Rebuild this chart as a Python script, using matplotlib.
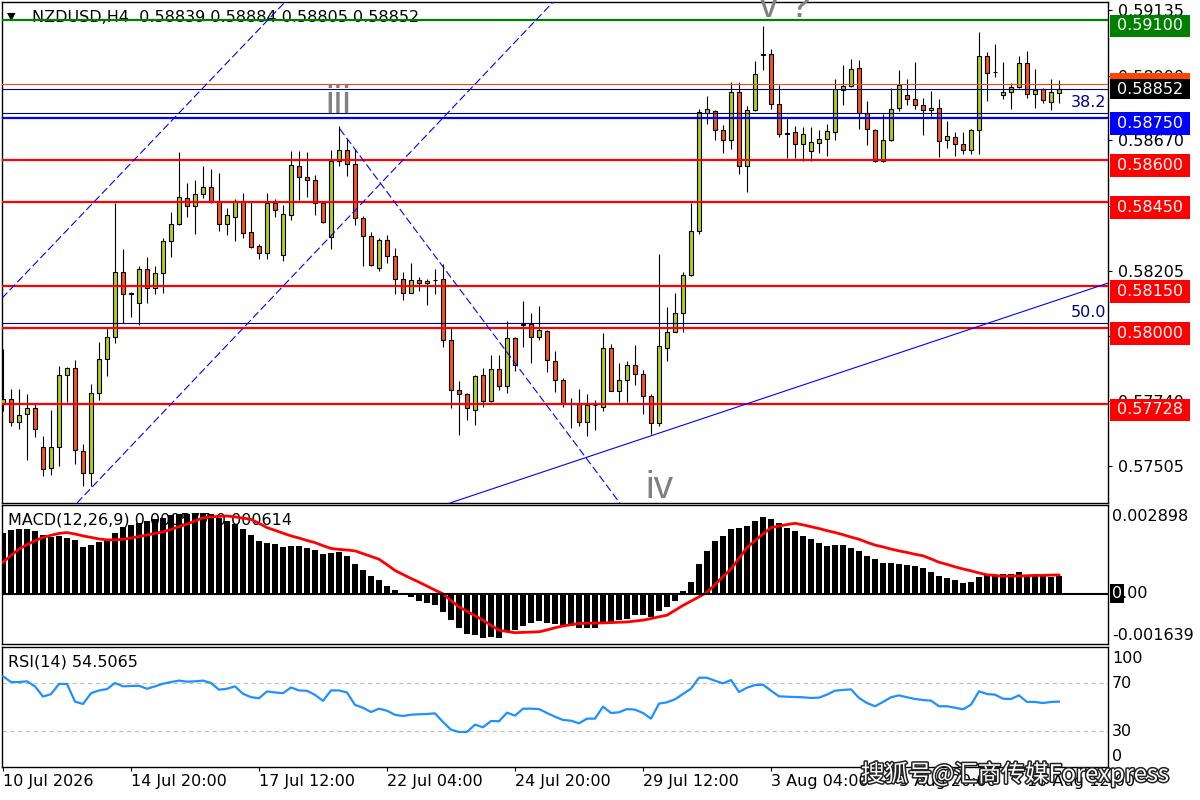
import matplotlib
matplotlib.use("Agg")
import matplotlib.pyplot as plt
import matplotlib.patheffects as pe
from matplotlib.patches import Rectangle
import numpy as np

plt.rcParams['font.family'] = ['DejaVu Sans']
plt.rcParams['axes.linewidth'] = 1.0

# ---- NZDUSD H4 candles ----
opens = [0.57727, 0.57745, 0.57665, 0.57693, 0.57715, 0.57576, 0.57501, 0.57576, 0.57833, 0.57858,
         0.57561, 0.57483, 0.57768, 0.57890, 0.57968, 0.58200, 0.58122, 0.58090, 0.58211, 0.58143,
         0.58197, 0.58311, 0.58372, 0.58465, 0.58436, 0.58479, 0.58504, 0.58454, 0.58372, 0.58397,
         0.58454, 0.58343, 0.58293, 0.58268, 0.58447, 0.58261, 0.58404, 0.58579, 0.58540, 0.58529,
         0.58447, 0.58325, 0.58597, 0.58636, 0.58586, 0.58393, 0.58329, 0.58215, 0.58315, 0.58257,
         0.58175, 0.58125, 0.58172, 0.58161, 0.58172, 0.58175, 0.57957, 0.57779, 0.57765, 0.57708,
         0.57833, 0.57740, 0.57854, 0.57793, 0.57965, 0.58015, 0.58015, 0.57968, 0.57990, 0.57883,
         0.57815, 0.57730, 0.57729, 0.57665, 0.57723, 0.57718, 0.57929, 0.57776, 0.57815, 0.57868,
         0.57836, 0.57758, 0.57661, 0.57929, 0.57986, 0.58054, 0.58190, 0.58347, 0.58768, 0.58775,
         0.58707, 0.58672, 0.58843, 0.58579, 0.58779, 0.58976, 0.58979, 0.58800, 0.58696, 0.58700,
         0.58657, 0.58632, 0.58661, 0.58675, 0.58700, 0.58850, 0.58864, 0.58929, 0.58768, 0.58707,
         0.58597, 0.58672, 0.58786, 0.58832, 0.58818, 0.58797, 0.58779, 0.58786, 0.58672, 0.58682,
         0.58657, 0.58636, 0.58707, 0.58971, 0.58915, 0.58832, 0.58843, 0.58861, 0.58946, 0.58836,
         0.58854, 0.58807, 0.58839]
highs = [0.57926, 0.57780, 0.57780, 0.57762, 0.57730, 0.57615, 0.57705, 0.57865, 0.57862, 0.57884,
         0.57584, 0.57800, 0.57950, 0.58001, 0.58448, 0.58283, 0.58129, 0.58222, 0.58255, 0.58222,
         0.58322, 0.58415, 0.58629, 0.58518, 0.58529, 0.58579, 0.58568, 0.58554, 0.58429, 0.58461,
         0.58483, 0.58454, 0.58298, 0.58482, 0.58461, 0.58440, 0.58632, 0.58632, 0.58629, 0.58547,
         0.58454, 0.58636, 0.58723, 0.58676, 0.58639, 0.58398, 0.58343, 0.58322, 0.58332, 0.58286,
         0.58200, 0.58232, 0.58182, 0.58175, 0.58211, 0.58229, 0.58000, 0.57811, 0.57768, 0.57833,
         0.57858, 0.57904, 0.57904, 0.58025, 0.57969, 0.58097, 0.58054, 0.58079, 0.57994, 0.57918,
         0.57820, 0.57751, 0.57783, 0.57765, 0.57743, 0.57983, 0.57943, 0.57875, 0.57883, 0.57940,
         0.57850, 0.57762, 0.58265, 0.58075, 0.58125, 0.58200, 0.58447, 0.58783, 0.58827, 0.58780,
         0.58725, 0.58879, 0.58879, 0.58793, 0.58954, 0.59079, 0.58996, 0.58868, 0.58750, 0.58722,
         0.58718, 0.58718, 0.58707, 0.58729, 0.58889, 0.58939, 0.58961, 0.58957, 0.58811, 0.58712,
         0.58764, 0.58857, 0.58922, 0.58889, 0.58950, 0.58822, 0.58846, 0.58818, 0.58739, 0.58700,
         0.58700, 0.58711, 0.59057, 0.58986, 0.59014, 0.58950, 0.58875, 0.58971, 0.58989, 0.58925,
         0.58857, 0.58889, 0.58884]
lows = [0.57702, 0.57651, 0.57638, 0.57528, 0.57610, 0.57472, 0.57474, 0.57508, 0.57736, 0.57515,
        0.57436, 0.57436, 0.57742, 0.57829, 0.57947, 0.58018, 0.58040, 0.58009, 0.58090, 0.58122,
        0.58125, 0.58254, 0.58369, 0.58397, 0.58335, 0.58465, 0.58447, 0.58347, 0.58331, 0.58311,
        0.58322, 0.58287, 0.58245, 0.58245, 0.58397, 0.58240, 0.58386, 0.58457, 0.58468, 0.58404,
        0.58375, 0.58282, 0.58579, 0.58543, 0.58368, 0.58222, 0.58222, 0.58204, 0.58232, 0.58122,
        0.58100, 0.58123, 0.58132, 0.58082, 0.58122, 0.57932, 0.57715, 0.57618, 0.57670, 0.57654,
        0.57718, 0.57736, 0.57779, 0.57768, 0.57847, 0.57932, 0.57875, 0.57957, 0.57843, 0.57772,
        0.57718, 0.57643, 0.57651, 0.57615, 0.57636, 0.57704, 0.57773, 0.57736, 0.57736, 0.57797,
        0.57693, 0.57622, 0.57651, 0.57883, 0.57984, 0.57986, 0.58186, 0.58336, 0.58727, 0.58672,
        0.58625, 0.58639, 0.58549, 0.58486, 0.58776, 0.58922, 0.58782, 0.58682, 0.58607, 0.58607,
        0.58597, 0.58597, 0.58625, 0.58614, 0.58672, 0.58797, 0.58862, 0.58711, 0.58654, 0.58593,
        0.58593, 0.58669, 0.58775, 0.58797, 0.58782, 0.58689, 0.58757, 0.58611, 0.58643, 0.58614,
        0.58622, 0.58622, 0.58622, 0.58811, 0.58896, 0.58818, 0.58782, 0.58857, 0.58822, 0.58786,
        0.58804, 0.58779, 0.58805]
closes = [0.57745, 0.57665, 0.57690, 0.57715, 0.57637, 0.57497, 0.57576, 0.57833, 0.57858, 0.57565,
          0.57483, 0.57768, 0.57890, 0.57968, 0.58200, 0.58122, 0.58123, 0.58211, 0.58143, 0.58197,
          0.58311, 0.58372, 0.58468, 0.58436, 0.58479, 0.58504, 0.58454, 0.58372, 0.58404, 0.58454,
          0.58340, 0.58290, 0.58268, 0.58447, 0.58422, 0.58407, 0.58582, 0.58540, 0.58529, 0.58447,
          0.58379, 0.58597, 0.58636, 0.58586, 0.58393, 0.58329, 0.58225, 0.58315, 0.58257, 0.58175,
          0.58125, 0.58172, 0.58161, 0.58168, 0.58171, 0.57957, 0.57779, 0.57765, 0.57715, 0.57829,
          0.57740, 0.57854, 0.57793, 0.57965, 0.57868, 0.58011, 0.57968, 0.57993, 0.57887, 0.57815,
          0.57733, 0.57728, 0.57665, 0.57726, 0.57725, 0.57929, 0.57776, 0.57815, 0.57868, 0.57836,
          0.57758, 0.57661, 0.57936, 0.57986, 0.58054, 0.58190, 0.58347, 0.58772, 0.58782, 0.58707,
          0.58672, 0.58843, 0.58579, 0.58779, 0.58907, 0.58978, 0.58800, 0.58693, 0.58694, 0.58657,
          0.58693, 0.58664, 0.58675, 0.58704, 0.58854, 0.58864, 0.58925, 0.58768, 0.58711, 0.58597,
          0.58672, 0.58782, 0.58868, 0.58818, 0.58797, 0.58779, 0.58786, 0.58668, 0.58686, 0.58657,
          0.58636, 0.58707, 0.58971, 0.58911, 0.58914, 0.58843, 0.58861, 0.58946, 0.58836, 0.58850,
          0.58814, 0.58843, 0.58852]

# MACD(12,26,9) histogram and signal, in units of 1e-4
macd_e4 = [19.8, 20.8, 21.1, 21.3, 20.5, 19.1, 18.4, 18.7, 18.3, 17.6,
           15.4, 15.9, 17.0, 17.8, 20.0, 21.9, 22.4, 23.0, 23.8, 24.3,
           24.8, 25.6, 25.9, 26.2, 26.5, 26.5, 25.9, 24.8, 23.8, 22.7,
           21.1, 19.1, 17.3, 16.7, 16.2, 15.4, 15.7, 15.7, 15.1, 14.4,
           13.0, 13.3, 13.5, 12.4, 9.7, 7.9, 5.9, 4.6, 2.7, 1.1,
           -0.3, -1.1, -2.2, -2.9, -3.6, -5.9, -8.6, -11.3, -13.0, -13.5,
           -14.4, -14.0, -14.4, -12.4, -11.9, -10.5, -9.4, -9.0, -9.4, -9.7,
           -10.3, -10.5, -11.1, -11.1, -11.1, -9.7, -9.2, -8.6, -8.1, -7.0,
           -6.8, -7.6, -5.7, -4.3, -2.2, 0.8, 4.0, 9.7, 14.0, 17.3,
           18.9, 21.1, 21.6, 22.1, 23.8, 25.2, 24.5, 23.0, 21.6, 20.5,
           18.9, 17.8, 16.5, 15.7, 15.9, 15.9, 15.1, 14.0, 12.4, 11.3,
           10.0, 10.0, 9.7, 9.4, 9.0, 8.3, 7.2, 5.9, 5.1, 4.6,
           3.6, 3.8, 5.4, 6.5, 5.9, 6.5, 6.5, 7.0, 6.2, 5.9,
           5.7, 5.4, 5.77]
signal_e4 = [10.3, 12.5, 14.6, 16.0, 17.3, 18.4, 19.1, 19.7, 20.0, 19.5,
             18.9, 18.4, 17.9, 17.6, 17.6, 17.8, 18.2, 18.7, 19.2, 19.7,
             20.2, 21.0, 21.9, 22.7, 23.8, 24.8, 25.1, 25.3, 25.4, 25.1,
             24.7, 24.3, 23.0, 21.6, 20.7, 19.8, 18.9, 18.2, 17.4, 16.7,
             15.7, 14.8, 14.5, 14.3, 14.0, 13.1, 12.2, 11.3, 9.5, 7.6,
             6.3, 5.0, 3.8, 2.5, 1.2, 0.0, -2.2, -4.3, -5.7, -7.2,
             -8.6, -10.3, -11.9, -12.3, -12.7, -12.6, -12.5, -12.4, -11.8, -11.1,
             -10.5, -10.1, -9.7, -9.6, -9.6, -9.5, -9.4, -9.3, -9.2, -8.9,
             -8.6, -8.1, -7.5, -7.0, -5.4, -3.8, -2.4, -1.0, 0.5, 3.0,
             5.6, 8.1, 11.6, 15.1, 17.3, 19.5, 21.6, 22.1, 22.6, 23.0,
             22.5, 21.9, 21.3, 20.6, 20.0, 19.3, 18.5, 17.8, 16.8, 15.9,
             15.3, 14.6, 14.0, 13.5, 12.9, 12.4, 11.4, 10.3, 9.6, 8.8,
             8.1, 7.5, 6.8, 6.2, 6.0, 5.7, 5.8, 5.8, 5.9, 6.0,
             6.0, 6.1, 6.14]

rsi = [75.6, 70.8, 70.8, 71.4, 67.2, 58.7, 60.7, 69.2, 69.2, 54.5,
       52.5, 61.5, 63.8, 64.9, 70.0, 67.2, 67.5, 67.7, 65.2, 67.2,
       69.4, 70.8, 72.0, 71.1, 71.4, 72.0, 70.0, 64.4, 65.2, 67.2,
       61.0, 58.2, 57.3, 63.0, 62.1, 61.5, 66.3, 63.8, 63.5, 60.1,
       55.1, 63.8, 63.8, 62.1, 51.7, 49.4, 45.8, 48.6, 46.9, 43.5,
       42.5, 43.6, 43.9, 44.2, 44.7, 37.5, 31.1, 29.2, 29.2, 35.3,
       33.1, 38.3, 38.1, 45.3, 42.8, 48.6, 48.6, 48.3, 45.0, 41.9,
       39.2, 38.6, 36.4, 40.3, 40.3, 50.3, 45.0, 45.6, 48.3, 47.8,
       45.0, 40.3, 52.8, 53.9, 56.4, 60.8, 65.3, 74.4, 74.4, 71.9,
       69.7, 72.5, 62.5, 66.1, 68.3, 68.6, 63.6, 58.9, 58.6, 58.3,
       58.1, 57.5, 57.8, 60.3, 63.6, 64.2, 64.7, 57.5, 53.3, 50.6,
       54.2, 58.1, 59.7, 58.1, 56.7, 55.8, 55.3, 50.6, 50.6, 49.4,
       48.1, 51.9, 63.1, 60.8, 60.3, 56.9, 56.7, 59.7, 54.2, 54.2,
       53.3, 54.2, 54.5065]

date_ticks = [0, 16, 32, 48, 64, 80, 96, 112, 128]
date_labels = ["10 Jul 2026", "14 Jul 20:00", "17 Jul 12:00", "22 Jul 04:00", "24 Jul 20:00",
               "29 Jul 12:00", "3 Aug 04:00", "5 Aug 20:00", "10 Aug 12:00"]

price_ticks = [0.59135, 0.58900, 0.58670, 0.58435, 0.58205, 0.57970, 0.57740, 0.57505]

red_levels = [0.58600, 0.58450, 0.58150, 0.58000, 0.57728]
green_level = 0.59100
blue_level = 0.58750
bid_price = 0.58852
ask_price = 0.58871
fib_levels = {"38.2": 0.58767, "50.0": 0.58017}

# trend lines as (bar index, price) pairs
channel_a = [(0.04, 0.58111), (31.9, 0.59064)]
channel_b = [(9.6, 0.57385), (49.6, 0.58588)]
wave_line = [(42.1, 0.58711), (78.0, 0.57340)]
support_line = [(57.3, 0.57388), (99.6, 0.57792)]

wave_labels = [("iii", 41.9, 0.58768), ("iv", 82.1, 0.57392), ("v ?", 97.8, 0.59111)]

BULL = '#B4CC1E'
BEAR = '#F2561D'
FS = 11.5

fig = plt.figure(figsize=(12, 8), dpi=100)
W, H = 1200, 800


def px_axes(x0, y0, x1, y1):
    return fig.add_axes([x0 / W, 1 - y1 / H, (x1 - x0) / W, (y1 - y0) / H])


ax = px_axes(2, 2, 1108, 503)
axm = px_axes(2, 505, 1108, 644)
axr = px_axes(2, 647, 1108, 767)

n = len(closes)
x = np.arange(n)
o = np.array(opens)
c = np.array(closes)
XL = (-0.125, 138.125)

# ---------- main price panel ----------
ylo, yhi = 0.573743, 0.591644
ax.set_xlim(*XL)
ax.set_ylim(ylo, yhi)
s = (yhi - ylo) / 501.0  # price per pixel

colors = np.where(c >= o, BULL, BEAR)
ax.vlines(x, lows, highs, color='black', lw=0.8, zorder=3)
ax.bar(x, c - o, bottom=o, width=0.62, color=colors, edgecolor='black', linewidth=0.8, zorder=4)

for lv in red_levels:
    ax.axhline(lv, color='#FF0000', lw=1.6, zorder=5)
ax.axhline(green_level, color='#008000', lw=1.6, zorder=5)
ax.axhline(blue_level, color='#0000FF', lw=1.6, zorder=5)
ax.axhline(ask_price, color='#FF4500', lw=0.8, zorder=5)
ax.axhline(bid_price, color='#000080', lw=0.8, zorder=5)
for txt, lv in fib_levels.items():
    ax.axhline(lv, color='#000080', lw=0.8, zorder=5)
    ax.annotate(txt, xy=(1, lv), xycoords=ax.get_yaxis_transform(), xytext=(-1, 2),
                textcoords='offset points', ha='right', va='bottom', color='#000080',
                fontsize=FS, zorder=6)

dash = (0, (7, 3))
ax.axline(channel_a[0], channel_a[1], color='#0000FF', lw=0.8, ls=dash, zorder=5)
ax.axline(channel_b[0], channel_b[1], color='#0000FF', lw=0.8, ls=dash, zorder=5)
ax.plot([p[0] for p in wave_line], [p[1] for p in wave_line], color='#0000FF', lw=0.8, ls=dash, zorder=5)
ax.axline(support_line[0], support_line[1], color='#0000FF', lw=0.8, zorder=5)

for txt, xi, yp in wave_labels:
    ax.text(xi, yp, txt, ha='center', va='baseline', fontsize=28, color='#808080',
            family=['Liberation Sans', 'DejaVu Sans'], zorder=6)

ax.text(5 / 1106, 0.970, "\u25BC", transform=ax.transAxes, fontsize=8, va='center', ha='left', zorder=4)
ax.text(29.7 / 1106, 0.970, "NZDUSD,H4  0.58839 0.58884 0.58805 0.58852", transform=ax.transAxes,
        fontsize=FS, va='center', ha='left', zorder=4)

ax.set_xticks([])
ax.yaxis.tick_right()
ax.set_yticks(price_ticks)
ax.set_yticklabels([f"{v:.5f}" for v in price_ticks])
ax.tick_params(axis='y', direction='out', length=3, width=0.8, pad=4, labelsize=FS)

bx0 = (1110 - 2) / 1106
bw = 80 / 1106
tx = (1117 - 2) / 1106


def price_box(price, color, text, top_px, height_px):
    top = price + top_px * s
    ax.add_patch(Rectangle((bx0, top - height_px * s), bw, height_px * s,
                           transform=ax.get_yaxis_transform(), facecolor=color,
                           edgecolor='none', clip_on=False, zorder=10))
    if text:
        ax.text(tx, top - height_px * s / 2, text, transform=ax.get_yaxis_transform(),
                color='white', va='center', ha='left', fontsize=FS, clip_on=False, zorder=11)


price_box(green_level, '#008000', "0.59100", 5.5, 22.5)
price_box(blue_level, '#0000FF', "0.58750", 5.5, 22.5)
for lv in red_levels:
    price_box(lv, '#FF0000', f"{lv:.5f}", 5.5, 22.5)
price_box(ask_price, '#FF4500', "", 11, 22)
price_box(bid_price, 'black', "0.58852", 10.5, 20.5)

# ---------- MACD panel ----------
macd = np.array(macd_e4) * 1e-4
signal = np.array(signal_e4) * 1e-4
axm.set_xlim(*XL)
axm.set_ylim(-0.001639, 0.002898)
axm.bar(x, macd, width=0.72, color='black', zorder=2)
axm.plot(x, signal, color='#FF0000', lw=2.0, zorder=3)
axm.axhline(0, color='black', lw=1.5, zorder=4)
axm.set_xticks([])
axm.set_yticks([])
axm.text(6 / 1106, 0.892, "MACD(12,26,9) 0.000577 0.000614", transform=axm.transAxes,
         fontsize=FS, va='center', ha='left', zorder=1)
ix = (1112 - 2) / 1106
axm.annotate("0.002898", xy=(ix, 1), xycoords='axes fraction', xytext=(0, -3),
             textcoords='offset points', va='top', ha='left', fontsize=FS, annotation_clip=False)
axm.annotate("-0.001639", xy=(ix, 0), xycoords='axes fraction', xytext=(0, 1),
             textcoords='offset points', va='bottom', ha='left', fontsize=FS, annotation_clip=False)
axm.text(ix, 0, "0.00", transform=axm.get_yaxis_transform(), va='center', ha='left',
         fontsize=FS, clip_on=False)
axm.text(ix, 0, "0", transform=axm.get_yaxis_transform(), va='center', ha='left',
         fontsize=FS, color='white', clip_on=False, zorder=6,
         bbox=dict(boxstyle='square,pad=0.12', fc='black', ec='none'))

# ---------- RSI panel ----------
axr.set_xlim(*XL)
axr.set_ylim(0, 100)
axr.plot(x, rsi, color='#1E90FF', lw=1.6, zorder=3)
for lv in (70, 30):
    axr.axhline(lv, color='#C0C0C0', lw=0.8, ls=(0, (4, 3)), zorder=1)
axr.set_yticks([])
axr.text(6 / 1106, 0.875, "RSI(14) 54.5065", transform=axr.transAxes,
         fontsize=FS, va='center', ha='left', zorder=4)
axr.annotate("100", xy=(ix, 1), xycoords='axes fraction', xytext=(0, -3),
             textcoords='offset points', va='top', ha='left', fontsize=FS, annotation_clip=False)
axr.annotate("0", xy=(ix, 0), xycoords='axes fraction', xytext=(0, 2),
             textcoords='offset points', va='bottom', ha='left', fontsize=FS, annotation_clip=False)
for lv in (70, 30):
    axr.text(ix, lv, str(lv), transform=axr.get_yaxis_transform(), va='center', ha='left',
             fontsize=FS, clip_on=False)
axr.set_xticks(date_ticks)
axr.set_xticklabels(date_labels)
for lab in axr.get_xticklabels():
    lab.set_horizontalalignment('left')
axr.tick_params(axis='x', direction='out', length=3, width=0.8, pad=2, labelsize=FS)

for a in (ax, axm, axr):
    for sp in a.spines.values():
        sp.set_color('black')

fig.text(1015 / W, 1 - 774 / H, "搜狐号@汇商传媒Forexpress", ha='center', va='center',
         fontsize=17, color='white', family=['Noto Sans CJK SC', 'DejaVu Sans'],
         path_effects=[pe.withStroke(linewidth=2.2, foreground='#222222')], zorder=20)

fig.savefig("out.png", dpi=100)
